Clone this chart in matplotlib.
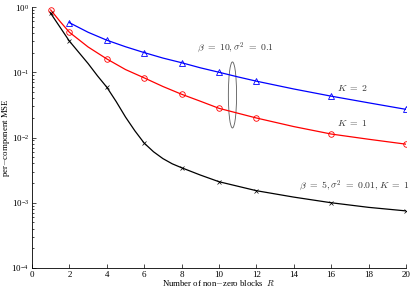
import numpy as np
import matplotlib.pyplot as plt
from matplotlib.patches import Ellipse

plt.rcParams['font.family'] = ['Liberation Serif', 'DejaVu Serif']
plt.rcParams['mathtext.fontset'] = 'cm'

# K = 2, beta = 10, sigma^2 = 0.1  (line read densely, markers at simulated points)
R_k2 = [2, 3, 4, 5, 6, 7, 8, 9, 10, 11, 12, 14, 16, 18, 20]
mse_k2 = [0.575, 0.41, 0.31, 0.246, 0.20, 0.165, 0.14, 0.117, 0.10, 0.085, 0.073, 0.0554, 0.043, 0.034, 0.027]
R_k2_mk = [2, 4, 6, 8, 10, 12, 16, 20]
mse_k2_mk = [0.575, 0.31, 0.20, 0.14, 0.10, 0.073, 0.043, 0.027]

# K = 1, beta = 10, sigma^2 = 0.1
R_k1 = [1, 1.5, 2, 3, 4, 5, 6, 7, 8, 9, 10, 11, 12, 14, 16, 18, 20]
mse_k1 = [0.90, 0.60, 0.41, 0.244, 0.16, 0.11, 0.082, 0.0605, 0.046, 0.036, 0.028, 0.0236, 0.0199,
          0.0147, 0.0113, 0.0094, 0.0079]
R_k1_mk = [1, 2, 4, 6, 8, 10, 12, 16, 20]
mse_k1_mk = [0.90, 0.41, 0.16, 0.082, 0.046, 0.028, 0.0199, 0.0113, 0.0079]

# beta = 5, sigma^2 = 0.01, K = 1
R_low = [1, 2, 3, 3.5, 4, 4.5, 5, 5.5, 6, 6.5, 7, 7.5, 8, 9, 10, 12, 14, 16, 18, 20]
mse_low = [0.80, 0.30, 0.136, 0.0882, 0.059, 0.0356, 0.0206, 0.01267, 0.0082, 0.00604, 0.00475, 0.00395,
           0.00344, 0.00266, 0.0021, 0.00153, 0.00122, 0.0010, 0.00085, 0.00075]
R_low_mk = [1, 2, 4, 6, 8, 10, 12, 16, 20]
mse_low_mk = [0.80, 0.30, 0.059, 0.0082, 0.00344, 0.0021, 0.00153, 0.0010, 0.00075]

fig = plt.figure(figsize=(4.15, 2.88), dpi=100)
ax = fig.add_axes([32 / 415, 20 / 288, 374 / 415, 261 / 288])

ax.plot(R_k2, mse_k2, color='blue', lw=0.9)
ax.plot(R_k2_mk, mse_k2_mk, ls='none', color='blue', marker='^', ms=4, mfc='none', mew=0.6)
ax.plot(R_k1, mse_k1, color='red', lw=0.9)
ax.plot(R_k1_mk, mse_k1_mk, ls='none', color='red', marker='o', ms=4, mfc='none', mew=0.6)
ax.plot(R_low, mse_low, color='black', lw=0.9)
ax.plot(R_low_mk, mse_low_mk, ls='none', color='black', marker='x', ms=3, mew=0.5)

ax.set_yscale('log')
ax.set_xlim(0, 20)
ax.set_ylim(1e-4, 1)
ax.set_xticks(range(0, 21, 2))
ax.set_yticks([1e-4, 1e-3, 1e-2, 1e-1, 1])
ax.tick_params(which='both', direction='in', labelsize=6.5, width=0.5, length=3, pad=2)
ax.tick_params(which='minor', length=1.5)
for s in ['top', 'right']:
    ax.spines[s].set_visible(False)
for s in ['left', 'bottom']:
    ax.spines[s].set_linewidth(0.6)

ax.set_xlabel(r'Number of non$-$zero blocks  $R$', fontsize=6.3)
ax.set_ylabel(r'per$-$component MSE', fontsize=6.3)
ax.xaxis.set_label_coords(0.5, -0.038)
ax.yaxis.set_label_coords(-0.053, 0.5)

ax.add_patch(Ellipse((0.536, 0.663), 0.022, 0.253, transform=ax.transAxes, fill=False,
                     ec='0.35', lw=0.6))
ax.text(10.9, 0.235, r'$\beta\ =\ 10, \sigma^2\ =\ 0.1$', fontsize=7, ha='center', va='center', color='0.2')
ax.text(16.3, 0.058, r'$K\ =\ 2$', fontsize=7, va='center', color='0.2')
ax.text(16.3, 0.0165, r'$K\ =\ 1$', fontsize=7, va='center', color='0.2')
ax.text(14.3, 0.0018, r'$\beta\ =\ 5, \sigma^2\ =\ 0.01, K\ =\ 1$', fontsize=7, va='center', color='0.2')

fig.savefig('out.png', dpi=100)
